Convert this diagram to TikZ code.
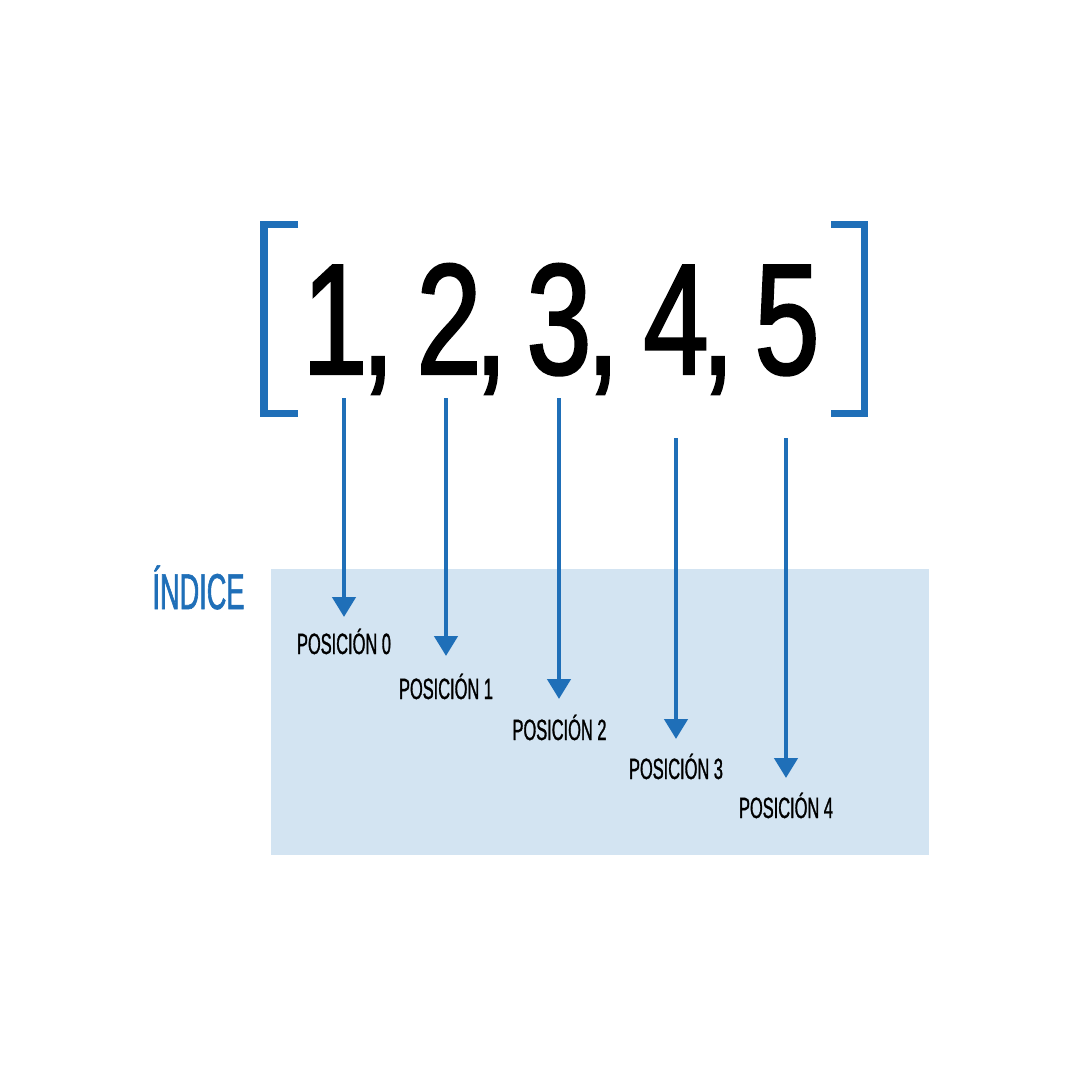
\documentclass[tikz,border=0pt]{standalone}
\usepackage{fontspec}
\usetikzlibrary{arrows.meta}
\newfontfamily\digfont[FakeStretch=0.74,FakeBold=1.5]{Liberation Sans}
\newfontfamily\labfont[FakeStretch=0.56,FakeBold=1]{Liberation Sans}
\newfontfamily\idxfont[FakeStretch=0.54,FakeBold=1.2]{Liberation Sans}
\definecolor{azul}{HTML}{1F6FB8}
\definecolor{celeste}{HTML}{D3E4F2}
\tikzset{
  digit/.style={inner sep=0pt, anchor=base, font=\digfont\fontsize{158}{160}\selectfont},
  poslabel/.style={inner sep=0pt, anchor=base, font=\labfont\fontsize{29.3}{32}\selectfont},
  idxlabel/.style={inner sep=0pt, anchor=base, text=azul, font=\idxfont\fontsize{50.3}{52}\selectfont},
  bracket/.style={draw=azul, line width=7.5pt, miter limit=10},
  arr/.style={draw=azul, line width=4.5pt, -{Triangle[length=20pt,width=23pt]}}
}
\begin{document}
\begin{tikzpicture}[x=1pt,y=-1pt]
\useasboundingbox (0,0) rectangle (1080,1080);
\fill[white] (0,0) rectangle (1080,1080);
\fill[celeste] (271,569) rectangle (929,855);

% brackets
\draw[bracket] (298,224.5) -- (264,224.5) -- (264,413.5) -- (298,413.5);
\draw[bracket] (831,224.5) -- (864.5,224.5) -- (864.5,413.5) -- (831,413.5);

% digits and commas
\node[digit] (d1) at (335,374) {1};
\node[digit] (c1) at (378,374) {,};
\node[digit] (d2) at (449,374) {2};
\node[digit] (c2) at (491,374) {,};
\node[digit] (d3) at (559,374) {3};
\node[digit] (c3) at (603,374) {,};
\node[digit] (d4) at (676,374) {4};
\node[digit] (c4) at (718,374) {,};
\node[digit] (d5) at (787,374) {5};

% index label
\node[idxlabel] (idx) at (198.5,609) {ÍNDICE};

% position labels
\node[poslabel] (p0) at (344,654) {POSICIÓN 0};
\node[poslabel] (p1) at (446,699) {POSICIÓN 1};
\node[poslabel] (p2) at (559.5,740) {POSICIÓN 2};
\node[poslabel] (p3) at (676,779) {POSICIÓN 3};
\node[poslabel] (p4) at (786,818) {POSICIÓN 4};

% arrow ends
\coordinate (s0) at (344,398);
\coordinate (s1) at (446,398);
\coordinate (s2) at (559,398);
\coordinate (s3) at (676,438);
\coordinate (s4) at (786,438);
\coordinate (t0) at (344,617);
\coordinate (t1) at (446,656);
\coordinate (t2) at (559,699);
\coordinate (t3) at (676,739);
\coordinate (t4) at (786,778);

\draw[arr] (s0) -- (t0);
\draw[arr] (s1) -- (t1);
\draw[arr] (s2) -- (t2);
\draw[arr] (s3) -- (t3);
\draw[arr] (s4) -- (t4);
\end{tikzpicture}
\end{document}
